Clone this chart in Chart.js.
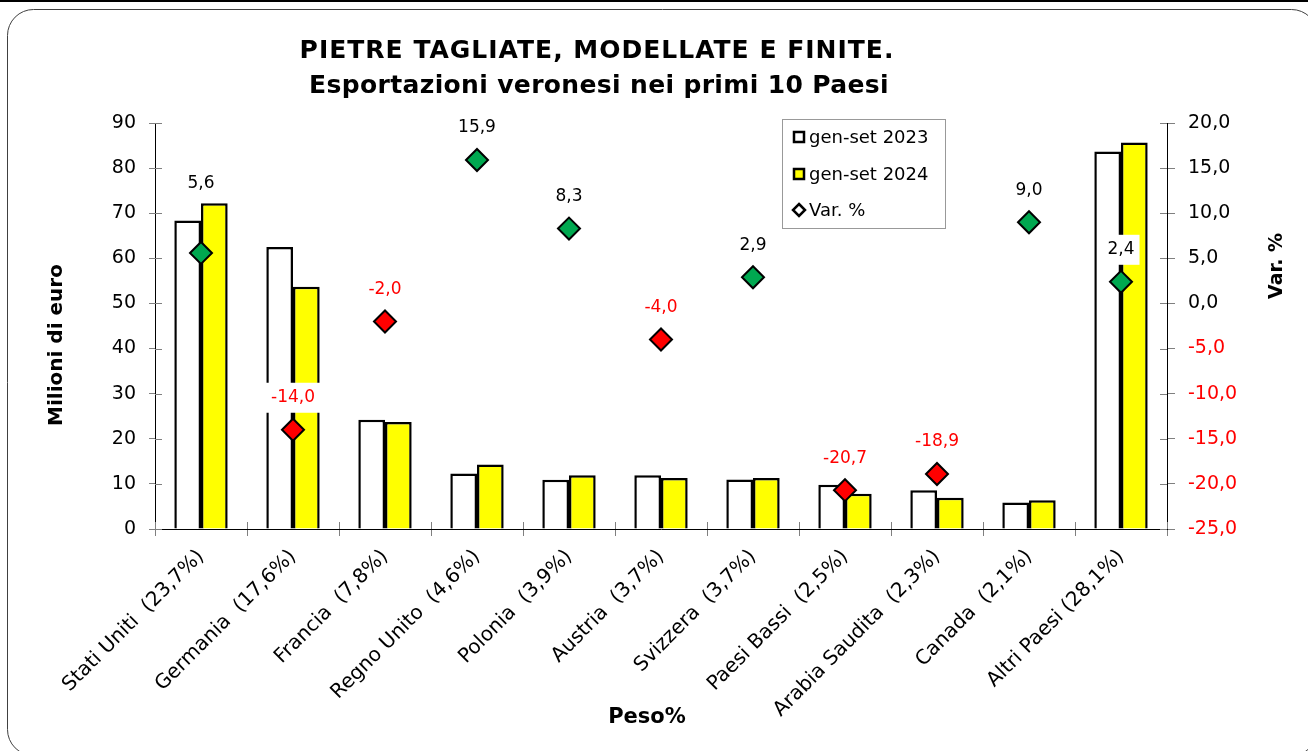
<!DOCTYPE html>
<html>
<head>
<meta charset="utf-8">
<title>Pietre tagliate - esportazioni veronesi</title>
<script src="https://cdn.jsdelivr.net/npm/chart.js@4.4.1/dist/chart.umd.min.js"></script>
<style>
    html, body { margin: 0; padding: 0; background: #fff; }
    #myChart { display: block; }
</style>
</head>
<body>
<canvas id="myChart" width="1308" height="751"></canvas>
<script>
// dati (milioni di euro e variazione %)
const paesi = ['Stati Uniti  (23,7%)', 'Germania  (17,6%)', 'Francia  (7,8%)', 'Regno Unito  (4,6%)',
    'Polonia  (3,9%)', 'Austria  (3,7%)', 'Svizzera  (3,7%)', 'Paesi Bassi  (2,5%)',
    'Arabia Saudita  (2,3%)', 'Canada  (2,1%)', 'Altri Paesi (28,1%)'];
const genSet2023 = [68.4, 62.5, 24.2, 12.3, 10.9, 11.9, 11.0, 9.8, 8.6, 5.9, 83.7];
const genSet2024 = [72.2, 53.7, 23.7, 14.3, 11.9, 11.3, 11.3, 7.8, 6.9, 6.4, 85.7];
const variazione = [5.6, -14.0, -2.0, 15.9, 8.3, -4.0, 2.9, -20.7, -18.9, 9.0, 2.4];
const tickSinistra = { min: 0, max: 90, step: 10 };
const tickDestra = { min: -25, max: 20, step: 5 };

const FONT = "'DejaVu Sans', Verdana, sans-serif";
const VERDE = '#00A850';
const ROSSO = '#FF0000';

function virgola(v) {
    return v.toFixed(1).replace('.', ',');
}

// cornice arrotondata come nel foglio Excel
const cornice = {
    id: 'cornice',
    beforeDraw(chart) {
        let ctx = chart.ctx;
        ctx.save();
        ctx.fillStyle = '#fff';
        ctx.fillRect(0, 0, chart.width, chart.height);
        ctx.strokeStyle = '#000';
        ctx.lineWidth = 2;
        ctx.beginPath();
        ctx.moveTo(0, 1);
        ctx.lineTo(chart.width, 1);
        ctx.stroke();
        ctx.strokeStyle = '#404040';
        ctx.lineWidth = 1;
        ctx.beginPath();
        ctx.roundRect(7.5, 9.5, 1310, 746, 26);
        ctx.stroke();
        ctx.restore();
    }
};

// tacche che attraversano gli assi
const tacche = {
    id: 'tacche',
    beforeDatasetsDraw(chart) {
        let ctx = chart.ctx;
        let a = chart.chartArea;
        ctx.save();
        ctx.strokeStyle = '#808080';
        ctx.lineWidth = 1;
        ctx.beginPath();
        chart.scales.y.ticks.forEach((t, i) => {
            let y = Math.round(chart.scales.y.getPixelForTick(i)) + 0.5;
            ctx.moveTo(a.left, y);
            ctx.lineTo(a.left + 7, y);
        });
        chart.scales.y1.ticks.forEach((t, i) => {
            let y = Math.round(chart.scales.y1.getPixelForTick(i)) + 0.5;
            ctx.moveTo(a.right - 7, y);
            ctx.lineTo(a.right, y);
        });
        for (let i = 0; i <= paesi.length; i++) {
            let px = Math.round(a.left + i * (a.right - a.left) / paesi.length) + 0.5;
            ctx.moveTo(px, a.bottom - 7);
            ctx.lineTo(px, a.bottom);
        }
        ctx.stroke();
        ctx.restore();
    }
};

// etichette della variazione % sopra i rombi
const etichette = {
    id: 'etichette',
    afterDatasetsDraw(chart) {
        let ctx = chart.ctx;
        let meta = chart.getDatasetMeta(0);
        ctx.save();
        ctx.font = '17px ' + FONT;
        ctx.textAlign = 'center';
        ctx.textBaseline = 'middle';
        meta.data.forEach((pt, i) => {
            let v = variazione[i];
            let testo = virgola(v);
            let y = pt.y - 32;
            // il primo valore sta sopra le barre, come nell'originale
            if (i === 0) {
                let top = chart.scales.y.getPixelForValue(Math.max(genSet2023[i], genSet2024[i]));
                y = top - 20;
            }
            let w = ctx.measureText(testo).width;
            ctx.fillStyle = '#fff';
            ctx.fillRect(pt.x - w / 2 - 5, y - 15, w + 10, 30);
            ctx.fillStyle = v < 0 ? ROSSO : '#000';
            ctx.fillText(testo, pt.x, y);
        });
        ctx.restore();
    }
};

// titolo, titoli degli assi e legenda
const testi = {
    id: 'testi',
    afterDraw(chart) {
        let ctx = chart.ctx;
        ctx.save();
        ctx.fillStyle = '#000';
        ctx.textAlign = 'center';
        ctx.textBaseline = 'middle';
        ctx.font = 'bold 25px ' + FONT;
        ctx.letterSpacing = '1px';
        ctx.fillText('PIETRE TAGLIATE, MODELLATE E FINITE.', 597, 51);
        ctx.letterSpacing = '0.35px';
        ctx.fillText('Esportazioni veronesi nei primi 10 Paesi', 599, 86);
        ctx.letterSpacing = '0px';

        ctx.font = 'bold 21px ' + FONT;
        ctx.fillText('Peso%', 647, 718);

        ctx.font = 'bold 20px ' + FONT;
        ctx.save();
        ctx.translate(57, 345);
        ctx.rotate(-Math.PI / 2);
        ctx.fillText('Milioni di euro', 0, 0);
        ctx.restore();

        ctx.font = 'bold 19px ' + FONT;
        ctx.save();
        ctx.translate(1277, 266);
        ctx.rotate(-Math.PI / 2);
        ctx.fillText('Var. %', 0, 0);
        ctx.restore();

        // legenda
        ctx.strokeStyle = '#999';
        ctx.lineWidth = 1;
        ctx.strokeRect(782.5, 119.5, 163, 109);
        ctx.font = '18px ' + FONT;
        ctx.textAlign = 'left';
        let voci = [chart.data.datasets[1], chart.data.datasets[2], chart.data.datasets[0]];
        let righe = [137, 174, 210];
        voci.forEach((ds, i) => {
            let y = righe[i];
            ctx.lineWidth = 2.5;
            ctx.strokeStyle = '#000';
            if (ds.type === 'line') {
                ctx.fillStyle = '#fff';
                ctx.beginPath();
                ctx.moveTo(799, y - 6);
                ctx.lineTo(805, y);
                ctx.lineTo(799, y + 6);
                ctx.lineTo(793, y);
                ctx.closePath();
                ctx.fill();
                ctx.stroke();
            } else {
                ctx.fillStyle = ds.backgroundColor;
                ctx.fillRect(794, y - 5, 10, 10);
                ctx.strokeRect(794, y - 5, 10, 10);
            }
            ctx.fillStyle = '#000';
            ctx.fillText(ds.label, 809, y + 1);
        });
        ctx.restore();
    }
};

window.onload = function() {
    let ctx = document.getElementById('myChart').getContext('2d');
    Chart.defaults.font.family = FONT;
    Chart.defaults.color = '#000';

    let myChart = new Chart(ctx, {
        type: 'bar',
        data: {
            labels: paesi,
            datasets: [{
                type: 'line',
                label: 'Var. %',
                data: variazione,
                yAxisID: 'y1',
                showLine: false,
                order: 0,
                pointStyle: 'rectRot',
                pointRadius: 11,
                pointHoverRadius: 11,
                pointBorderWidth: 2,
                pointBorderColor: '#000',
                pointBackgroundColor: variazione.map(v => v < 0 ? ROSSO : VERDE)
            }, {
                label: 'gen-set 2023',
                data: genSet2023,
                yAxisID: 'y',
                order: 1,
                backgroundColor: '#FFFFFF',
                borderColor: '#000',
                borderWidth: 2.5,
                categoryPercentage: 0.58,
                barPercentage: 1.0
            }, {
                label: 'gen-set 2024',
                data: genSet2024,
                yAxisID: 'y',
                order: 1,
                backgroundColor: '#FFFF00',
                borderColor: '#000',
                borderWidth: 2.5,
                categoryPercentage: 0.58,
                barPercentage: 1.0
            }]
        },
        options: {
            responsive: false,
            animation: false,
            layout: { padding: { top: 123, left: 0, right: 0, bottom: 0 } },
            plugins: {
                legend: { display: false },
                title: { display: false },
                tooltip: { enabled: false }
            },
            scales: {
                x: {
                    grid: { drawOnChartArea: false, tickLength: 7, color: '#808080' },
                    border: { color: '#000', width: 1 },
                    ticks: {
                        font: { size: 20 },
                        minRotation: 45,
                        maxRotation: 45,
                        autoSkip: false,
                        padding: 9
                    },
                    afterFit: s => { s.height = 222; }
                },
                y: {
                    position: 'left',
                    min: tickSinistra.min,
                    max: tickSinistra.max,
                    grid: { drawOnChartArea: false, tickLength: 6, color: '#808080' },
                    border: { color: '#000', width: 1 },
                    ticks: { stepSize: tickSinistra.step, font: { size: 19 }, padding: 13 },
                    afterFit: s => { s.width = 155; }
                },
                y1: {
                    position: 'right',
                    min: tickDestra.min,
                    max: tickDestra.max,
                    grid: { drawOnChartArea: false, tickLength: 8, color: '#808080' },
                    border: { color: '#000', width: 1 },
                    ticks: {
                        stepSize: tickDestra.step,
                        font: { size: 19 },
                        padding: 13,
                        callback: v => virgola(v),
                        color: c => c.tick.value < 0 ? ROSSO : '#000'
                    },
                    afterFit: s => { s.width = 141; }
                }
            }
        },
        plugins: [cornice, tacche, etichette, testi]
    });
};
</script>
</body>
</html>
